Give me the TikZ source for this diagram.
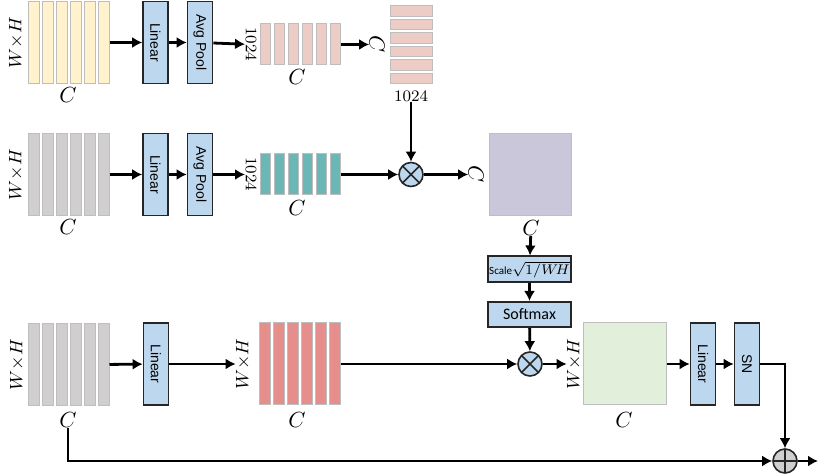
\documentclass[tikz,border=0pt]{standalone}
\usepackage{fontspec}
\newfontfamily\arialf{Liberation Sans}
\newfontfamily\calf{Carlito}
\usetikzlibrary{arrows.meta}

\definecolor{qyellow}{RGB}{255,242,204}
\definecolor{kpink}{RGB}{236,204,196}
\definecolor{vteal}{RGB}{106,183,181}
\definecolor{fgray}{RGB}{208,206,206}
\definecolor{xred}{RGB}{229,142,140}
\definecolor{attpurple}{RGB}{203,199,218}
\definecolor{outgreen}{RGB}{226,239,218}
\definecolor{blkblue}{RGB}{189,215,238}
\definecolor{barline}{RGB}{190,190,190}

\tikzset{
  bar/.style={draw=barline,line width=0.5pt,inner sep=0pt,minimum width=5.5pt,minimum height=41pt},
  sbar/.style={bar,minimum width=5pt,minimum height=20.5pt},
  hbar/.style={bar,minimum width=21pt,minimum height=5.25pt},
  sq/.style={bar,minimum width=41pt,minimum height=41pt},
  blk/.style={draw=black!85,line width=0.8pt,fill=blkblue,inner sep=0pt,
    minimum width=12.5pt,minimum height=41pt,font=\arialf\fontsize{7}{8}\selectfont},
  wideblk/.style={blk,minimum width=41.5pt,minimum height=12.75pt,font=\calf\fontsize{8}{9}\selectfont},
  op/.style={circle,draw=black!85,line width=0.8pt,inner sep=0pt,minimum size=12pt},
  mult/.style={op,fill=blkblue,path picture={
    \draw[line width=0.8pt] (path picture bounding box.north west) -- (path picture bounding box.south east)
      (path picture bounding box.north east) -- (path picture bounding box.south west);}},
  plus/.style={op,fill=fgray,path picture={
    \draw[line width=0.8pt] (path picture bounding box.north) -- (path picture bounding box.south)
      (path picture bounding box.west) -- (path picture bounding box.east);}},
  dimlab/.style={font=\fontsize{9.5}{11}\selectfont,inner sep=0pt},
  clab/.style={font=\fontsize{11}{13}\selectfont,inner sep=0pt},
  numlab/.style={font=\fontsize{8}{9}\selectfont,inner sep=0pt},
  flow/.style={->,line width=1.4pt},
}

\begin{document}
\begin{tikzpicture}[x=0.5pt,y=-0.5pt,>={Latex[length=5pt,width=5.5pt]}]
  \useasboundingbox (0,0) rectangle (830,474);

  % first branch
  \foreach \i in {0,...,5}
    \node[bar,fill=qyellow] (q\i) at (33.5+14*\i,42.5) {};
  \node[dimlab,rotate=90] (qwh) at (16,42.5) {$W{\times}H$};
  \node[clab] (qc) at (68,95) {$C$};
  \node[blk] (qlin) at (155.5,42.5) {\rotatebox{-90}{Linear}};
  \node[blk] (qpool) at (200,42.5) {\rotatebox{-90}{Avg Pool}};
  \node[numlab,rotate=-90] (qn) at (251,44.5) {1024};
  \foreach \i in {0,...,5}
    \node[sbar,fill=kpink] (k\i) at (265+14*\i,44.5) {};
  \node[clab] (kc) at (297,77) {$C$};
  \node[clab,rotate=-90] (kr) at (377,44.5) {$C$};
  \foreach \i in {0,...,5}
    \node[hbar,fill=kpink] (h\i) at (411,11.25+13.5*\i) {};
  \node[numlab] (kn) at (411,96) {1024};

  \draw[flow] (q5) -- (qlin);
  \draw[flow] (qlin) -- (qpool);
  \draw[flow] (qpool) -- (qn);
  \draw[flow] (k5) -- (kr);

  % second branch
  \foreach \i in {0,...,5}
    \node[bar,fill=fgray] (v\i) at (33.5+14*\i,174.5) {};
  \node[dimlab,rotate=90] (vwh) at (16,174.5) {$W{\times}H$};
  \node[clab] (vc) at (68,227) {$C$};
  \node[blk] (vlin) at (155.5,174.5) {\rotatebox{-90}{Linear}};
  \node[blk] (vpool) at (200,174.5) {\rotatebox{-90}{Avg Pool}};
  \node[numlab,rotate=-90] (vn) at (251,174.5) {1024};
  \foreach \i in {0,...,5}
    \node[sbar,fill=vteal] (t\i) at (265+14*\i,174.5) {};
  \node[clab] (tc) at (297,208) {$C$};
  \node[mult] (m1) at (411,174.5) {};
  \node[clab,rotate=-90] (ar) at (476,174.5) {$C$};
  \node[sq,fill=attpurple] (att) at (530.5,175) {};
  \node[clab] (attc) at (531,228) {$C$};
  \node[wideblk] (scl) at (529.5,269)
    {{\fontsize{5.5}{6}\selectfont Scale}{\fontsize{7}{8}\selectfont$\sqrt{\vphantom{W}\smash{1/W\!H}}$}};
  \node[wideblk] (smax) at (529.5,314.5) {Softmax};

  \draw[flow] (v5) -- (vlin);
  \draw[flow] (vlin) -- (vpool);
  \draw[flow] (vpool) -- (vn);
  \draw[flow] (kn) -- (m1);
  \draw[flow] (t5) -- (m1);
  \draw[flow] (m1) -- (ar);
  \draw[flow] (attc) -- (scl);
  \draw[flow] (scl) -- (smax);

  % third branch
  \foreach \i in {0,...,5}
    \node[bar,fill=fgray] (x\i) at (33.5+14*\i,364.5) {};
  \node[dimlab,rotate=90] (xwh) at (17,364.5) {$W{\times}H$};
  \node[clab] (xc) at (68,420) {$C$};
  \node[blk] (xlin) at (156,364) {\rotatebox{-90}{Linear}};
  \node[dimlab,rotate=90] (rwh) at (243,364) {$W{\times}H$};
  \foreach \i in {0,...,5}
    \node[bar,fill=xred] (r\i) at (264.5+14*\i,364) {};
  \node[clab] (rc) at (297,420) {$C$};
  \node[mult] (m2) at (530,364) {};
  \node[dimlab,rotate=90] (owh) at (574,364) {$W{\times}H$};
  \node[sq,fill=outgreen,minimum width=41.5pt] (outf) at (624.5,364) {};
  \node[clab] (oc) at (624,420) {$C$};
  \node[blk] (olin) at (703,364) {\rotatebox{-90}{Linear}};
  \node[blk] (sn) at (747,364) {\rotatebox{-90}{SN}};
  \node[plus] (add) at (785,461) {};
  \coordinate (end) at (818,461);

  \draw[flow] (smax) -- (m2);
  \draw[flow] (x5) -- (xlin);
  \draw[flow] (xlin) -- (rwh);
  \draw[flow] (r5) -- (m2);
  \draw[flow] (m2) -- (owh);
  \draw[flow] (outf) -- (olin);
  \draw[flow] (olin) -- (sn);
  \draw[flow] (sn.east) -| (add);
  \draw[flow] (xc) |- (add);
  \draw[flow] (add) -- (end);
\end{tikzpicture}
\end{document}
